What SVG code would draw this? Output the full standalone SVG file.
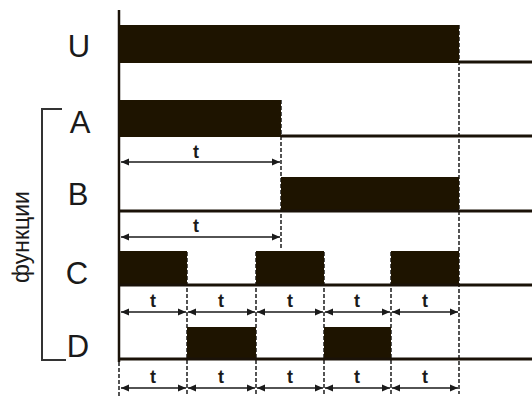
<svg xmlns="http://www.w3.org/2000/svg" width="532" height="396" viewBox="0 0 532 396">
<defs>
<marker id="ah" viewBox="0 0 10 10" refX="10" refY="5" markerWidth="9" markerHeight="8" orient="auto-start-reverse" markerUnits="userSpaceOnUse">
<path d="M0,0.5 L10,5 L0,9.5 Z" fill="#1a1a1a"/>
</marker>
<style>
.bar{fill:#1e1400}
.base{stroke:#1a1208;stroke-width:3;fill:none}
.axis{stroke:#1a1208;stroke-width:2.5;fill:none}
.dash{stroke:#2a2a2a;stroke-width:1.6;stroke-dasharray:4 2;fill:none}
.arr{stroke:#1a1a1a;stroke-width:1.6;fill:none;marker-start:url(#ah);marker-end:url(#ah)}
.lbl{font-family:"Liberation Sans",Arial,sans-serif;font-size:31px;fill:#1a1a1a;text-anchor:middle}
.t{font-family:"Liberation Sans",Arial,sans-serif;font-size:18px;font-weight:bold;fill:#1a1a1a;text-anchor:middle}
.fn{font-family:"Liberation Sans",Arial,sans-serif;font-size:23px;fill:#1a1a1a;text-anchor:middle}
.br{stroke:#333;stroke-width:2;fill:none}
</style>
</defs>

<g id="axis">
<line class="axis" x1="119" y1="10" x2="119" y2="362"/>
<line class="dash" x1="119" y1="362" x2="119" y2="396"/>
</g>

<g id="connectors">
<line class="dash" x1="459" y1="25" x2="459" y2="394"/>
<line class="dash" x1="281" y1="100" x2="281" y2="248"/>
<line class="dash" x1="187" y1="252" x2="187" y2="394"/>
<line class="dash" x1="256" y1="252" x2="256" y2="394"/>
<line class="dash" x1="324" y1="252" x2="324" y2="394"/>
<line class="dash" x1="391" y1="252" x2="391" y2="394"/>
<line class="arr" x1="121" y1="162" x2="280" y2="162"/>
<line class="arr" x1="121" y1="237" x2="280" y2="237"/>
<line class="arr" x1="121" y1="312" x2="186" y2="312"/>
<line class="arr" x1="188" y1="312" x2="255" y2="312"/>
<line class="arr" x1="257" y1="312" x2="323" y2="312"/>
<line class="arr" x1="325" y1="312" x2="390" y2="312"/>
<line class="arr" x1="392" y1="312" x2="458" y2="312"/>
<line class="arr" x1="121" y1="388" x2="186" y2="388"/>
<line class="arr" x1="188" y1="388" x2="255" y2="388"/>
<line class="arr" x1="257" y1="388" x2="323" y2="388"/>
<line class="arr" x1="325" y1="388" x2="390" y2="388"/>
<line class="arr" x1="392" y1="388" x2="458" y2="388"/>
</g>

<g id="U">
<rect class="bar" x="119" y="25" width="340" height="38"/>
<line class="base" x1="459" y1="62" x2="532" y2="62"/>
<text class="lbl" x="79" y="57">U</text>
</g>

<g id="A">
<rect class="bar" x="119" y="100" width="162" height="37"/>
<line class="base" x1="281" y1="136" x2="532" y2="136"/>
<text class="lbl" x="80" y="133">A</text>
<text class="t" x="196" y="158">t</text>
</g>

<g id="B">
<rect class="bar" x="281" y="177" width="178" height="35"/>
<line class="base" x1="119" y1="211" x2="532" y2="211"/>
<text class="lbl" x="78" y="205">B</text>
<text class="t" x="196" y="232">t</text>
</g>

<g id="C">
<rect class="bar" x="119" y="251" width="68" height="35"/>
<rect class="bar" x="256" y="251" width="68" height="35"/>
<rect class="bar" x="391" y="251" width="68" height="35"/>
<line class="base" x1="119" y1="285" x2="532" y2="285"/>
<text class="lbl" x="77" y="284">C</text>
<text class="t" x="153" y="307">t</text>
<text class="t" x="221" y="307">t</text>
<text class="t" x="290" y="307">t</text>
<text class="t" x="357" y="307">t</text>
<text class="t" x="425" y="307">t</text>
</g>

<g id="D">
<rect class="bar" x="187" y="327" width="69" height="33"/>
<rect class="bar" x="324" y="327" width="67" height="33"/>
<line class="base" x1="119" y1="359" x2="532" y2="359"/>
<text class="lbl" x="78" y="357">D</text>
<text class="t" x="153" y="383">t</text>
<text class="t" x="221" y="383">t</text>
<text class="t" x="290" y="383">t</text>
<text class="t" x="357" y="383">t</text>
<text class="t" x="425" y="383">t</text>
</g>

<g id="functions">
<polyline class="br" points="62,109 42,109 42,360 66,360"/>
<text class="fn" transform="translate(29,237) rotate(-90)">функции</text>
</g>
</svg>
